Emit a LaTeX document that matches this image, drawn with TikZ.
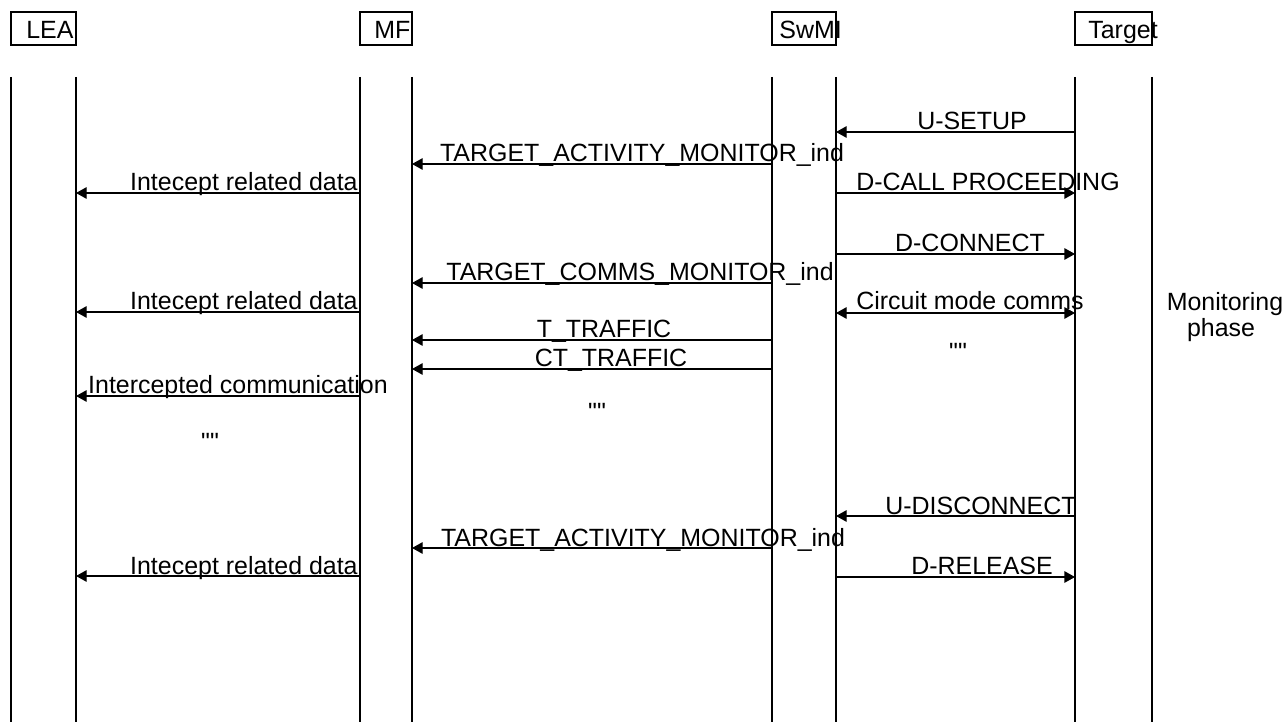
\documentclass[tikz,border=0pt]{standalone}
\usepackage{fontspec}
\setmainfont{Liberation Sans}[Ligatures=TeXOff]
\usetikzlibrary{arrows.meta}

\tikzset{
  life/.style={line width=1.3pt},
  hdr/.style={draw, line width=1.2pt},
  msg/.style={line width=0.6pt, -{Triangle[length=6pt,width=6.5pt]}},
  msgboth/.style={line width=0.6pt, {Triangle[length=6pt,width=6.5pt]}-{Triangle[length=6pt,width=6.5pt]}},
  lbl/.style={inner sep=0pt, anchor=base, font=\fontsize{14.2}{17}\selectfont},
}

\begin{document}
\begin{tikzpicture}[x=0.02cm, y=-0.02cm]
  \useasboundingbox (0,0) rectangle (1287,722);
  % Lifelines
  \foreach \n/\x in {leaA/11, leaB/76, mfA/360, mfB/412, swA/772, swB/836, tgA/1075, tgB/1152}{
    \coordinate (\n) at (\x,77);
    \coordinate (\n-end) at (\x,722);
    \draw[life] (\n) -- (\n-end);
  }
  % Headers
  \draw[hdr] (leaA |- 0,12) rectangle (leaB |- 0,45);
  \node[lbl, anchor=base west] (leaName) at (26,39) {LEA};
  \draw[hdr] (mfA |- 0,12) rectangle (mfB |- 0,45);
  \node[lbl, anchor=base west] (mfName) at (374,39) {MF};
  \draw[hdr] (swA |- 0,12) rectangle (swB |- 0,45);
  \node[lbl, anchor=base west] (swName) at (779,39) {SwMI};
  \draw[hdr] (tgA |- 0,12) rectangle (tgB |- 0,45);
  \node[lbl, anchor=base west] (tgName) at (1088,39) {Target};
  % Call setup
  \draw[msg] (tgA |- 0,132) -- (swB |- 0,132);
  \node[lbl] (uSetup) at (972,130) {U-SETUP};
  \draw[msg] (swA |- 0,164) -- (mfB |- 0,164);
  \node[lbl] (actInd) at (642,162) {TARGET\_ACTIVITY\_MONITOR\_ind};
  \draw[msg] (mfA |- 0,193) -- (leaB |- 0,193);
  \node[lbl, anchor=base east] (iri) at (358,191) {Intecept related data};
  \draw[msg] (swB |- 0,193) -- (tgA |- 0,193);
  \node[lbl] (dCallProc) at (988,191) {D-CALL PROCEEDING};
  \draw[msg] (swB |- 0,254) -- (tgA |- 0,254);
  \node[lbl] (dConnect) at (970,252) {D-CONNECT};
  \draw[msg] (swA |- 0,283) -- (mfB |- 0,283);
  \node[lbl] (commsInd) at (640,281) {TARGET\_COMMS\_MONITOR\_ind};
  \draw[msg] (mfA |- 0,312) -- (leaB |- 0,312);
  \node[lbl, anchor=base east] (iriTwo) at (358,310) {Intecept related data};
  % Monitoring phase
  \draw[msgboth] (swB |- 0,313) -- (tgA |- 0,313);
  \node[lbl] (circComms) at (970,310) {Circuit mode comms};
  \node[lbl] (monPhase) at (1225,311) {Monitoring};
  \node[lbl] (monPhaseTwo) at (1221,337) {phase};
  \draw[msg] (swA |- 0,340) -- (mfB |- 0,340);
  \node[lbl] (tTraffic) at (604,338) {T\_TRAFFIC};
  \draw[msg] (swA |- 0,369) -- (mfB |- 0,369);
  \node[lbl] (ctTraffic) at (611,367) {CT\_TRAFFIC};
  \node[lbl, anchor=center] (dittoSw) at (958,352) {""};
  \draw[msg] (mfA |- 0,396) -- (leaB |- 0,396);
  \node[lbl] (icComm) at (238,394) {Intercepted communication};
  \node[lbl, anchor=center] (dittoMf) at (597,412) {""};
  \node[lbl, anchor=center] (dittoLea) at (210,442) {""};
  % Release
  \draw[msg] (tgA |- 0,516) -- (swB |- 0,516);
  \node[lbl] (uDisc) at (981,514) {U-DISCONNECT};
  \draw[msg] (swA |- 0,548) -- (mfB |- 0,548);
  \node[lbl] (actIndTwo) at (643,546) {TARGET\_ACTIVITY\_MONITOR\_ind};
  \draw[msg] (mfA |- 0,576) -- (leaB |- 0,576);
  \node[lbl, anchor=base east] (iriThree) at (358,574) {Intecept related data};
  \draw[msg] (swB |- 0,577) -- (tgA |- 0,577);
  \node[lbl] (dRelease) at (982,574) {D-RELEASE};
\end{tikzpicture}
\end{document}
